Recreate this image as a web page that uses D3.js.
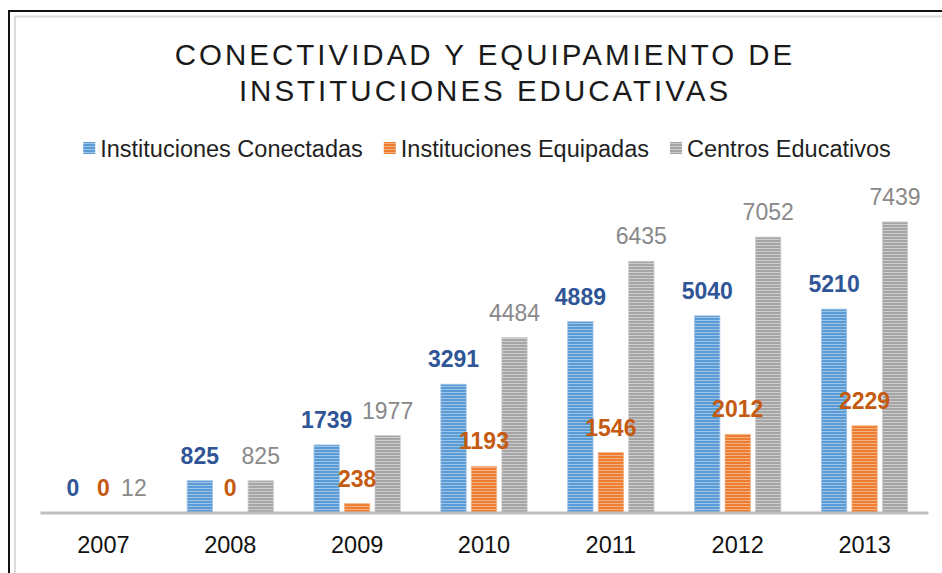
<!DOCTYPE html>
<html><head>
<meta charset="utf-8">
<script src="https://d3js.org/d3.v7.min.js"></script>
<style>
  body { margin: 0; background: #fff; }
  svg { display: block; font-family: "Liberation Sans", Arial, sans-serif; }
</style>
</head>
<body>
<div id="chart"></div>
<script>
// Data
const years = ["2007", "2008", "2009", "2010", "2011", "2012", "2013"];
const seriesNames = ["Instituciones Conectadas", "Instituciones Equipadas", "Centros Educativos"];
const conectadas = [0, 825, 1739, 3291, 4889, 5040, 5210];
const equipadas = [0, 0, 238, 1193, 1546, 2012, 2229];
const centros = [12, 825, 1977, 4484, 6435, 7052, 7439];
const titleLines = ["CONECTIVIDAD Y EQUIPAMIENTO DE", "INSTITUCIONES EDUCATIVAS"];

const allValues = [conectadas, equipadas, centros];
const barColors = ["#5B9BD5", "#ED7D31", "#A5A5A5"];
const stripeColors = ["#9DC3E6", "#F4B183", "#CDCDCD"];
const labelColors = ["#2F5597", "#C55A11", "#898989"];
const labelWeights = ["bold", "bold", "normal"];

const width = 942, height = 573;
const svg = d3.select("#chart").append("svg").attr("width", width).attr("height", height);

// striped fills like the office "horizontal lines" pattern
const defs = svg.append("defs");
barColors.forEach((c, i) => {
  const p = defs.append("pattern").attr("id", "stripe" + i)
    .attr("patternUnits", "userSpaceOnUse").attr("width", 4).attr("height", 3);
  p.append("rect").attr("width", 4).attr("height", 3).attr("fill", c);
  p.append("rect").attr("y", 2).attr("width", 4).attr("height", 1).attr("fill", stripeColors[i]);
});

// frame
svg.append("rect").attr("x", 9).attr("y", 11).attr("width", 960).attr("height", 600)
  .attr("fill", "none").attr("stroke", "#111").attr("stroke-width", 2);
svg.append("rect").attr("x", 15).attr("y", 16.5).attr("width", 960).attr("height", 600)
  .attr("fill", "none").attr("stroke", "#DCDCDC").attr("stroke-width", 2);

// title
svg.append("g").selectAll("text").data(titleLines).join("text")
  .attr("x", 485).attr("y", (d, i) => 65 + i * 36)
  .attr("text-anchor", "middle")
  .attr("font-size", 29.5).attr("letter-spacing", 3)
  .attr("fill", "#1a1a1a")
  .text(d => d);

// legend
const legend = svg.append("g");
const items = legend.selectAll("g").data(seriesNames).join("g");
items.append("rect").attr("width", 12).attr("height", 12).attr("y", 142)
  .attr("fill", (d, i) => "url(#stripe" + i + ")");
items.append("text").attr("x", 17).attr("y", 157)
  .attr("font-size", 23.5).attr("fill", "#1f1f1f").text(d => d);
let lx = 0;
const offsets = [];
items.each(function() {
  offsets.push(lx);
  lx += 17 + this.querySelector("text").getComputedTextLength() + 21;
});
const legendW = lx - 21;
const legendStart = 487 - legendW / 2;
items.attr("transform", (d, i) => "translate(" + (legendStart + offsets[i]) + ",0)");

// scales
const x0 = d3.scaleBand().domain(years).range([40, 928]).paddingInner(0.32).paddingOuter(0.16);
const x1 = d3.scaleBand().domain(d3.range(3)).range([0, x0.bandwidth()]).paddingInner(0.17);
const y = d3.scaleLinear().domain([0, 8000]).range([513, 200]);

// bars
const groups = svg.append("g").selectAll("g").data(years).join("g")
  .attr("transform", d => "translate(" + x0(d) + ",0)");

groups.selectAll("rect").data((d, j) => allValues.map((vals, i) => ({ i: i, v: vals[j] })))
  .join("rect")
  .attr("x", d => x1(d.i))
  .attr("width", x1.bandwidth())
  .attr("y", d => y(d.v))
  .attr("height", d => y(0) - y(d.v))
  .attr("fill", d => "url(#stripe" + d.i + ")")
  .attr("stroke", d => stripeColors[d.i])
  .attr("stroke-width", 0.8);

groups.selectAll("text").data((d, j) => allValues.map((vals, i) => ({ i: i, v: vals[j] })))
  .join("text")
  .attr("x", d => x1(d.i) + x1.bandwidth() / 2)
  .attr("y", d => y(d.v) - 17)
  .attr("text-anchor", "middle")
  .attr("font-size", 23)
  .attr("font-weight", d => labelWeights[d.i])
  .attr("fill", d => labelColors[d.i])
  .text(d => d.v);

// axis
const xAxis = svg.append("g").attr("transform", "translate(0,512.5)")
  .call(d3.axisBottom(x0).tickSize(0).tickPadding(0));
xAxis.select(".domain").attr("stroke", "#BFBFBF").attr("stroke-width", 3);
xAxis.selectAll("text").attr("font-size", 23.5).attr("fill", "#111")
  .attr("font-family", "Liberation Sans, Arial, sans-serif")
  .attr("dy", null).attr("y", 40.5);
</script>
</body>
</html>
